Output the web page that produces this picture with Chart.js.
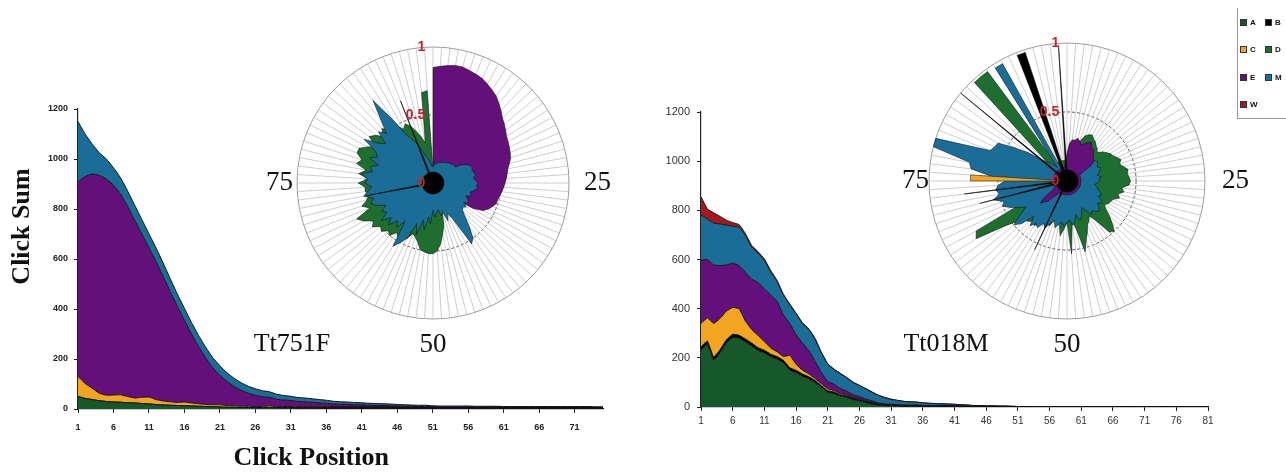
<!DOCTYPE html>
<html>
<head>
<meta charset="utf-8">
<script src="https://cdn.jsdelivr.net/npm/chart.js@4.4.1/dist/chart.umd.min.js"></script>
<style>
  html, body { margin: 0; padding: 0; background: #fff; }
  #page { position: relative; width: 1286px; height: 472px; overflow: hidden; }
  canvas { position: absolute; top: 0; }
  .sample { position: absolute; font: 26px "Liberation Serif", "Times New Roman", serif; color: #111;
            transform: translate(-50%, -50%); white-space: nowrap; }
  #legend { position: absolute; left: 1237px; top: 8px; width: 49px; height: 110px;
            border-left: 1px solid #9a9a9a; border-bottom: 1px solid #9a9a9a; }
  .key { position: absolute; font: bold 8px Arial, "Liberation Sans", sans-serif; color: #111;
         display: flex; align-items: center; }
  .key i { display: inline-block; width: 7px; height: 7px; margin-right: 3px; border: 1px solid #333; box-sizing: border-box; }
</style>
</head>
<body>
<div id="page">
  <canvas id="leftArea" width="640" height="472" style="left:0px"></canvas>
  <canvas id="rightArea" width="646" height="472" style="left:640px"></canvas>
  <canvas id="leftPolar" width="370" height="380" style="left:250px"></canvas>
  <canvas id="rightPolar" width="400" height="380" style="left:880px"></canvas>
  <div class="sample" style="left:292px; top:343px">Tt751F</div>
  <div class="sample" style="left:946px; top:343px">Tt018M</div>
  <div id="legend"></div>
</div>
<script>
// categories shown in the legend
const categories = ['A', 'B', 'C', 'D', 'E', 'M', 'W'];
const categoryColors = {
  A: '#17582a', B: '#000000', C: '#f2a51f', D: '#1e6e30',
  E: '#64107a', M: '#1a6d96', W: '#a8161e'
};

// click positions on the x axis
const leftPositions = Array.from({ length: 75 }, (_, i) => String(i + 1));
const rightPositions = Array.from({ length: 81 }, (_, i) => String(i + 1));
const yTicks = [0, 200, 400, 600, 800, 1000, 1200];

// Tt751F click sums per category
const leftA = [
  50, 42, 38, 33, 30, 28, 27, 25, 24, 22,
  20, 18, 16, 15, 14, 13, 12, 11, 10, 9,
  8, 7, 7, 6, 6, 5, 5, 5, 4, 4,
  4, 3, 3, 3, 3, 2, 2, 2, 2, 2,
  2, 2, 2, 2, 2, 1, 1, 1, 1, 1,
  1, 1, 1, 1, 1, 1, 1, 1, 1, 1,
  1, 1, 1, 1, 1, 1, 1, 1, 1, 1,
  1, 1, 1, 1, 1
];
const leftB = [
  0, 0, 0, 0, 0, 0, 0, 0, 0, 0,
  0, 0, 0, 0, 0, 0, 0, 0, 0, 0,
  0, 0, 0, 0, 0, 1, 1, 2, 2, 3,
  3, 3, 4, 4, 4, 5, 5, 5, 5, 5,
  5, 5, 5, 5, 5, 5, 5, 5, 5, 5,
  5, 5, 5, 5, 5, 5, 5, 5, 5, 5,
  5, 5, 5, 5, 5, 5, 5, 5, 5, 5,
  5, 5, 5, 4, 4
];
const leftC = [
  80, 60, 45, 30, 25, 28, 30, 25, 20, 25,
  28, 20, 16, 14, 12, 15, 12, 10, 8, 8,
  9, 7, 6, 5, 5, 4, 4, 6, 3, 3,
  3, 2, 2, 2, 2, 2, 1, 1, 1, 1,
  1, 1, 1, 1, 1, 1, 1, 1, 1, 1,
  0, 0, 0, 0, 0, 0, 0, 0, 0, 0,
  0, 0, 0, 0, 0, 0, 0, 0, 0, 0,
  0, 0, 0, 0, 0
];
const leftE = [
  780, 828, 857, 872, 865, 839, 803, 760, 711, 653,
  597, 552, 498, 441, 384, 327, 276, 229, 187, 148,
  118, 96, 77, 64, 52, 45, 39, 34, 30, 26,
  24, 22, 20, 18, 16, 14, 12, 11, 10, 9,
  8, 7, 6, 6, 5, 5, 4, 4, 3, 3,
  3, 2, 2, 2, 2, 2, 2, 2, 2, 2,
  1, 1, 1, 1, 1, 1, 1, 1, 1, 1,
  1, 1, 1, 1, 1
];
const leftM = [
  240, 170, 120, 90, 80, 70, 65, 62, 60, 58,
  56, 55, 54, 52, 50, 48, 46, 44, 42, 40,
  38, 35, 33, 30, 28, 26, 24, 22, 20, 18,
  17, 16, 15, 14, 13, 12, 11, 10, 10, 9,
  9, 8, 8, 7, 7, 6, 6, 5, 5, 5,
  4, 4, 4, 4, 4, 4, 3, 3, 3, 3,
  3, 3, 3, 3, 3, 3, 3, 3, 3, 3,
  3, 3, 3, 3, 3
];

// Tt018M click sums per category
const rightA = [
  230, 255, 190, 220, 260, 283, 280, 265, 248, 230,
  220, 205, 195, 180, 150, 140, 125, 115, 100, 80,
  60, 55, 45, 40, 30, 25, 18, 12, 8, 6,
  5, 4, 3, 3, 3, 3, 2, 2, 2, 2,
  2, 1, 1, 1, 1, 1, 1, 1, 1, 0,
  0, 0, 0, 0, 0, 0, 0, 0, 0, 0,
  0, 0, 0, 0, 0, 0, 0, 0, 0, 0,
  0, 0, 0, 0, 0, 0, 0, 0, 0, 0,
  0
];
const rightB = [
  15, 13, 13, 13, 13, 13, 12, 12, 12, 11,
  11, 10, 10, 10, 10, 9, 9, 8, 8, 7,
  6, 6, 5, 5, 5, 4, 4, 4, 3, 3,
  3, 3, 3, 3, 3, 2, 2, 2, 2, 2,
  2, 2, 2, 1, 1, 1, 1, 1, 1, 1,
  1, 1, 1, 1, 1, 0, 0, 0, 0, 0,
  0, 0, 0, 0, 0, 0, 0, 0, 0, 0,
  0, 0, 0, 0, 0, 0, 0, 0, 0, 0,
  0
];
const rightC = [
  95, 94, 137, 127, 117, 109, 108, 73, 55, 50,
  35, 25, 20, 15, 50, 25, 16, 12, 8, 8,
  8, 6, 5, 4, 3, 3, 2, 2, 1, 0,
  0, 0, 0, 0, 0, 0, 0, 0, 0, 0,
  0, 0, 0, 0, 0, 0, 0, 0, 0, 0,
  0, 0, 0, 0, 0, 0, 0, 0, 0, 0,
  0, 0, 0, 0, 0, 0, 0, 0, 0, 0,
  0, 0, 0, 0, 0, 0, 0, 0, 0, 0,
  0
];
const rightE = [
  257, 238, 238, 215, 188, 180, 175, 198, 205, 215,
  215, 215, 205, 170, 130, 120, 110, 95, 70, 45,
  30, 25, 20, 15, 12, 10, 8, 6, 5, 4,
  3, 3, 2, 2, 2, 1, 1, 1, 1, 1,
  1, 1, 0, 0, 0, 0, 0, 0, 0, 0,
  0, 0, 0, 0, 0, 0, 0, 0, 0, 0,
  0, 0, 0, 0, 0, 0, 0, 0, 0, 0,
  0, 0, 0, 0, 0, 0, 0, 0, 0, 0,
  0
];
const rightM = [
  183, 165, 170, 170, 162, 150, 157, 150, 130, 120,
  115, 95, 80, 80, 75, 85, 80, 85, 90, 80,
  70, 60, 60, 55, 50, 45, 42, 36, 30, 25,
  20, 17, 15, 13, 12, 11, 10, 9, 8, 7,
  6, 5, 5, 4, 4, 3, 3, 2, 2, 2,
  1, 1, 1, 1, 1, 0, 0, 0, 0, 0,
  0, 0, 0, 0, 0, 0, 0, 0, 0, 0,
  0, 0, 0, 0, 0, 0, 0, 0, 0, 0,
  0
];
const rightW = [
  75, 40, 42, 30, 20, 15, 10, 8, 7, 6,
  6, 5, 5, 4, 4, 3, 3, 3, 3, 2,
  2, 2, 2, 1, 1, 1, 1, 1, 1, 1,
  1, 0, 0, 0, 0, 0, 0, 0, 0, 0,
  0, 0, 0, 0, 0, 0, 0, 0, 0, 0,
  0, 0, 0, 0, 0, 0, 0, 0, 0, 0,
  0, 0, 0, 0, 0, 0, 0, 0, 0, 0,
  0, 0, 0, 0, 0, 0, 0, 0, 0, 0,
  0
];

// polar insets: 100 positions around the circle, relative share 0..1
const anglePositions = Array.from({ length: 100 }, (_, i) => i);
const compassMarks = [25, 50, 75];
const radialTicks = [0, 0.5, 1];

const leftPolarB = [
  .08, .08, .08, .08, .08, .08, .08, .08, .08, .08,
  .08, .08, .08, .08, .08, .08, .08, .08, .08, .08,
  .08, .08, .08, .08, .08, .08, .08, .08, .08, .08,
  .08, .08, .08, .08, .08, .08, .08, .08, .08, .08,
  .08, .08, .08, .08, .08, .08, .08, .08, .08, .08,
  .08, .08, .08, .08, .08, .08, .08, .08, .08, .08,
  .08, .08, .08, .08, .08, .08, .08, .08, .08, .08,
  .08, .08, .5, .08, .08, .08, .08, .08, .08, .08,
  .08, .08, .08, .08, .08, .08, .08, .08, .08, .08,
  .08, .08, .08, .08, .65, .08, .08, .08, .08, .08
];
const leftPolarM = [
  .12, .13, .14, .15, .15, .16, .16, .17, .17, .18,
  .18, .19, .19, .2, .2, .2, .25, .28, .3, .31,
  .3, .31, .32, .3, .31, .33, .32, .33, .3, .28,
  .3, .26, .28, .3, .27, .3, .28, .3, .35, .42,
  .5, .53, .3, .25, .3, .22, .25, .2, .22, .25,
  .2, .3, .25, .35, .28, .4, .32, .45, .5, .55,
  .35, .42, .38, .45, .4, .47, .4, .43, .38, .45,
  .48, .45, .52, .48, .45, .5, .48, .53, .45, .48,
  .42, .5, .45, .48, .6, .5, .45, .55, .5, .6,
  .75, .55, .4, .35, .3, .25, .2, .18, .15, .12
];
const leftPolarD = [
  .1, .1, .1, .1, .1, .1, .1, .1, .1, .1,
  .1, .1, .1, .1, .1, .1, .1, .1, .1, .1,
  .15, .15, .15, .15, .15, .15, .15, .15, .15, .15,
  .2, .2, .2, .2, .2, .2, .2, .2, .2, .2,
  .2, .2, .2, .2, .2, .22, .32, .38, .45, .5,
  .52, .52, .51, .5, .45, .42, .4, .45, .4, .48,
  .45, .5, .48, .52, .5, .55, .52, .58, .62, .5,
  .55, .5, .48, .5, .5, .55, .48, .55, .5, .58,
  .55, .6, .6, .55, .5, .58, .55, .5, .55, .5,
  .48, .5, .45, .48, .45, .4, .35, .3, .67, .68
];
const leftPolarE = [
  .85, .86, .87, .88, .88, .87, .86, .85, .83, .81,
  .79, .76, .73, .7, .68, .66, .64, .63, .62, .61,
  .6, .58, .56, .55, .54, .53, .52, .51, .5, .49,
  .49, .47, .45, .42, .35, .2, .1, 0, 0, 0,
  0, 0, 0, 0, 0, 0, 0, 0, 0, 0,
  0, 0, 0, 0, 0, 0, 0, 0, 0, 0,
  0, 0, 0, 0, 0, 0, 0, 0, 0, 0,
  0, 0, 0, 0, 0, 0, 0, 0, 0, 0,
  0, 0, 0, 0, 0, 0, 0, 0, 0, 0,
  0, 0, 0, 0, 0, 0, 0, 0, 0, 0
];

const rightPolarB = [
  .08, .08, .08, .08, .08, .08, .08, .08, .08, .08,
  .08, .08, .08, .08, .08, .08, .08, .08, .08, .08,
  .08, .08, .08, .08, .08, .08, .08, .08, .08, .08,
  .08, .08, .08, .08, .08, .08, .08, .08, .08, .08,
  .08, .08, .08, .08, .08, .08, .08, .08, .08, .08,
  .08, .08, .08, .08, .08, .08, .08, .55, .08, .08,
  .08, .08, .08, .08, .08, .08, .08, .08, .08, .08,
  .08, .65, .08, .75, .08, .08, .08, .08, .08, .08,
  .08, .08, .08, .08, .08, .08, 1, .08, .08, .08,
  .08, .08, .08, .08, .98, .98, .08, .08, .08, .98
];
const rightPolarC = [
  0, 0, 0, 0, 0, 0, 0, 0, 0, 0,
  0, 0, 0, 0, 0, 0, 0, 0, 0, 0,
  0, 0, 0, 0, 0, 0, 0, 0, 0, 0,
  0, 0, 0, 0, 0, 0, 0, 0, 0, 0,
  0, 0, 0, 0, 0, 0, 0, 0, 0, 0,
  0, 0, 0, 0, 0, 0, 0, 0, 0, 0,
  0, 0, 0, 0, 0, 0, 0, 0, 0, 0,
  0, 0, 0, 0, 0, .7, .7, 0, 0, 0,
  0, 0, 0, 0, 0, 0, 0, 0, 0, 0,
  0, 0, 0, 0, 0, 0, 0, 0, 0, 0
];
const rightPolarE = [
  .2, .27, .3, .3, .32, .3, .28, .3, .32, .33,
  .3, .3, .28, .26, .25, .24, .2, .12, .1, .1,
  .1, .1, .1, .1, .1, .1, .1, .1, .1, .1,
  .1, .1, .1, .1, .1, .1, .1, .1, .1, .1,
  .1, .1, .1, .1, .1, .1, .1, .1, .1, .1,
  .1, .1, .1, .1, .1, .1, .1, .1, .1, .1,
  .12, .15, .2, .22, .25, .2, .12, .1, .1, .1,
  .1, .1, .1, .1, .1, .1, .1, .1, .1, .1,
  .1, .1, .1, .1, .1, .1, .1, .1, .1, .1,
  .1, .1, .1, .1, .1, .1, .1, .1, .12, .15
];
const rightPolarM = [
  .12, .15, .15, .18, .2, .2, .22, .2, .22, .2,
  .22, .25, .22, .25, .24, .25, .26, .25, .24, .26,
  .25, .24, .22, .25, .23, .24, .22, .2, .22, .23,
  .25, .27, .25, .28, .3, .27, .3, .32, .3, .28,
  .3, .25, .22, .25, .28, .3, .25, .3, .32, .28,
  .3, .33, .3, .32, .35, .3, .33, .38, .35, .4,
  .38, .42, .35, .45, .5, .42, .35, .4, .45, .5,
  .48, .55, .5, .52, .5, .45, .55, .7, .72, 1,
  1, .6, .58, .57, .45, .35, .25, .2, .18, .15,
  .12, .97, .97, .1, .1, .1, .1, .1, .1, .1
];
const rightPolarD = [
  .15, .2, .25, .28, .3, .3, .35, .37, .38, .36,
  .35, .33, .32, .3, .33, .35, .37, .38, .4, .42,
  .4, .42, .45, .44, .45, .46, .45, .4, .42, .38,
  .4, .36, .35, .34, .32, .35, .4, .45, .5, .48,
  .35, .3, .33, .35, .4, .45, .53, .35, .3, .53,
  .3, .35, .4, .3, .28, .3, .35, .32, .3, .35,
  .4, .38, .4, .42, .45, .55, .78, .75, .3, .25,
  .2, .2, .2, .2, .2, .2, .2, .2, .2, .2,
  .2, .2, .2, .2, .2, .2, .2, .2, .98, .98,
  .98, .15, .15, .15, .15, .15, .15, .15, .15, .15
];

Chart.defaults.font.family = 'Arial, "Liberation Sans", sans-serif';
Chart.defaults.color = '#222';

const nb = n => '\u00a0'.repeat(n);

function stackedSets(series) {
  return series.map((s, i) => ({
    label: s.key,
    data: s.data,
    backgroundColor: categoryColors[s.key],
    borderColor: '#111',
    borderWidth: 1,
    pointRadius: 0,
    tension: 0.1,
    fill: i === 0 ? 'origin' : '-1'
  }));
}

function makeArea(id, labels, series, box) {
  new Chart(document.getElementById(id), {
    type: 'line',
    data: { labels: labels, datasets: stackedSets(series) },
    options: {
      responsive: false,
      animation: false,
      devicePixelRatio: 1,
      layout: { padding: { left: 0, top: box.top, right: box.right, bottom: 0 } },
      plugins: { legend: { display: false }, tooltip: { enabled: false } },
      scales: {
        x: {
          grid: {
            drawOnChartArea: false,
            tickLength: 4,
            color: c => (c.index % 5 === 0 ? '#222' : 'rgba(0,0,0,0)')
          },
          border: { color: '#222', width: 1.2 },
          ticks: {
            autoSkip: false,
            maxRotation: 0,
            padding: box.xPad,
            color: box.tickColor,
            font: box.tickFont,
            callback: (v, i) => (i % 5 === 0 ? labels[i] : '')
          },
          title: box.xTitle ? {
            display: true,
            text: box.xTitle,
            color: '#111',
            font: { family: '"Liberation Serif", "Times New Roman", serif', size: 26, weight: 'bold', lineHeight: 1 },
            padding: { top: 0, bottom: 1 }
          } : { display: false },
          afterFit: s => { s.height = box.xHeight; }
        },
        y: {
          stacked: true,
          min: 0,
          max: 1200,
          afterBuildTicks: s => { s.ticks = yTicks.map(v => ({ value: v })); },
          grid: { drawOnChartArea: false, tickLength: 4, color: '#222' },
          border: { color: '#222', width: 1.2 },
          ticks: { padding: box.yPad, color: box.tickColor, font: box.yFont, callback: v => String(v) },
          title: box.yTitle ? {
            display: true,
            text: box.yTitle,
            color: '#111',
            font: { family: '"Liberation Serif", "Times New Roman", serif', size: 26, weight: 'bold', lineHeight: 1 },
            padding: { top: 9, bottom: 0 }
          } : { display: false },
          afterFit: s => { s.width = box.yWidth; }
        }
      }
    }
  });
}

// 25 / 50 / 75 around each polar inset
const compassLabels = {
  id: 'compassLabels',
  afterDraw(chart, args, opts) {
    const r = chart.scales.r;
    const ctx = chart.ctx;
    ctx.save();
    ctx.font = '27px "Liberation Serif", "Times New Roman", serif';
    ctx.fillStyle = '#111';
    compassMarks.forEach((m, i) => {
      const spec = opts.marks[i];
      const p = r.getPointPosition(anglePositions.indexOf(m), r.drawingArea + spec.gap);
      ctx.textAlign = spec.align;
      ctx.textBaseline = spec.baseline;
      ctx.fillText(String(m), p.x, p.y);
    });
    ctx.restore();
  }
};

function makePolar(id, series, padding, marks) {
  new Chart(document.getElementById(id), {
    type: 'radar',
    data: {
      labels: anglePositions,
      datasets: series.map(s => ({
        label: s.key,
        data: s.data,
        backgroundColor: categoryColors[s.key],
        borderColor: 'rgba(10,10,10,0.85)',
        borderWidth: 0.6,
        pointRadius: 0,
        fill: 'origin',
        tension: 0
      }))
    },
    options: {
      responsive: false,
      animation: false,
      devicePixelRatio: 1,
      layout: { padding: padding },
      plugins: { legend: { display: false }, tooltip: { enabled: false }, compassLabels: { marks: marks } },
      scales: {
        r: {
          min: -0.001,
          max: 1,
          afterBuildTicks: s => { s.ticks = radialTicks.map(v => ({ value: v })); },
          angleLines: { color: '#b9b9b9', lineWidth: 0.7 },
          grid: {
            circular: true,
            lineWidth: 1,
            color: c => (c.tick && c.tick.value === 0.5 ? '#555' : c.tick && c.tick.value === 1 ? '#9c9c9c' : 'rgba(0,0,0,0)')
          },
          border: { dash: c => (c.tick && c.tick.value === 0.5 ? [3, 2] : []) },
          pointLabels: { display: false },
          ticks: {
            z: 1,
            showLabelBackdrop: false,
            color: '#c4262c',
            font: { size: 14, weight: 'bold' },
            callback: v => String(v) + (v === 0.5 ? nb(9) : nb(6))
          }
        }
      }
    },
    plugins: [compassLabels]
  });
}

makeArea('leftArea', leftPositions, [
  { key: 'A', data: leftA }, { key: 'B', data: leftB }, { key: 'C', data: leftC },
  { key: 'E', data: leftE }, { key: 'M', data: leftM }
], {
  top: 109, right: 37, yWidth: 78, xHeight: 63, xPad: 9, yPad: 6,
  tickColor: '#222', tickFont: { size: 9, weight: 'bold' }, yFont: { size: 9, weight: 'bold' },
  yTitle: nb(10) + 'Click Sum', xTitle: 'Click Position' + nb(9)
});

makeArea('rightArea', rightPositions, [
  { key: 'A', data: rightA }, { key: 'B', data: rightB }, { key: 'C', data: rightC },
  { key: 'E', data: rightE }, { key: 'M', data: rightM }, { key: 'W', data: rightW }
], {
  top: 112, right: 78, yWidth: 61, xHeight: 65, xPad: 4, yPad: 7,
  tickColor: '#333', tickFont: { size: 10 }, yFont: { size: 11 }
});

makePolar('leftPolar', [
  { key: 'B', data: leftPolarB }, { key: 'M', data: leftPolarM },
  { key: 'D', data: leftPolarD }, { key: 'E', data: leftPolarE }
], { left: 38, right: 42, top: 38, bottom: 52 }, [
  { gap: 15, align: 'left', baseline: 'middle' },
  { gap: 12, align: 'center', baseline: 'top' },
  { gap: 4, align: 'right', baseline: 'middle' }
]);

makePolar('rightPolar', [
  { key: 'B', data: rightPolarB }, { key: 'C', data: rightPolarC }, { key: 'E', data: rightPolarE },
  { key: 'M', data: rightPolarM }, { key: 'D', data: rightPolarD }
], { left: 40, right: 66, top: 34, bottom: 52 }, [
  { gap: 17, align: 'left', baseline: 'middle' },
  { gap: 12, align: 'center', baseline: 'top' },
  { gap: 0, align: 'right', baseline: 'middle' }
]);

// legend box, two keys per row
const legendBox = document.getElementById('legend');
categories.forEach((k, i) => {
  const el = document.createElement('div');
  el.className = 'key';
  el.style.left = (2 + (i % 2) * 25) + 'px';
  el.style.top = (10 + Math.floor(i / 2) * 27.3) + 'px';
  el.innerHTML = '<i style="background:' + categoryColors[k] + '"></i>' + k;
  legendBox.appendChild(el);
});
</script>
</body>
</html>
